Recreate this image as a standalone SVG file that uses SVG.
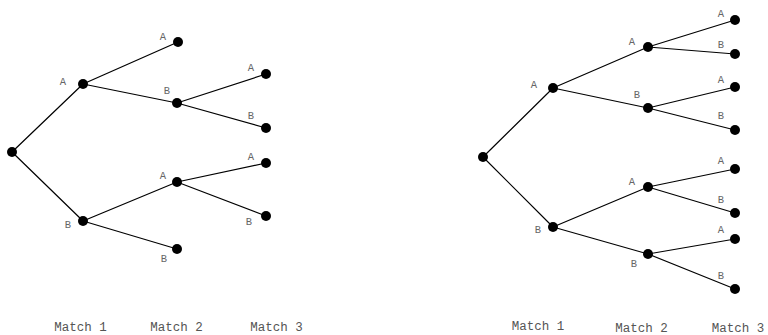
<svg xmlns="http://www.w3.org/2000/svg" width="768" height="335" viewBox="0 0 768 335">
<style>
.e{stroke:#000;stroke-width:1.2;fill:none}
.n{fill:#000}
.l{font-family:"Liberation Mono",monospace;font-size:10.5px;fill:#666;text-anchor:middle}
.m{font-family:"Liberation Mono",monospace;font-size:12.5px;fill:#555;text-anchor:middle}
</style>
<rect width="768" height="335" fill="#fff"/>
<g id="connectors">
<path class="e" d="M12,152 L83,84 M12,152 L83,221 M83,84 L178,42 M83,84 L177,103 M177,103 L266,74 M177,103 L266,128 M83,221 L177,182 M83,221 L177,249 M177,182 L266,163 M177,182 L266,216"/>
<path class="e" d="M483,157 L553,88 M483,157 L553,227 M553,88 L648,47 M553,88 L648,108 M553,227 L648,187 M553,227 L648,254 M648,47 L735,20 M648,47 L735,54 M648,108 L735,87 M648,108 L735,130 M648,187 L735,169 M648,187 L735,213 M648,254 L735,239 M648,254 L735,289"/>
</g>
<g id="L-root"><circle class="n" cx="12" cy="152" r="5"/></g>
<g id="L-A"><circle class="n" cx="83" cy="84" r="5"/><text class="l" x="63" y="85">A</text></g>
<g id="L-B"><circle class="n" cx="83" cy="221" r="5"/><text class="l" x="68" y="228">B</text></g>
<g id="L-AA"><circle class="n" cx="178" cy="42" r="5"/><text class="l" x="163" y="40">A</text></g>
<g id="L-AB"><circle class="n" cx="177" cy="103" r="5"/><text class="l" x="167" y="94">B</text></g>
<g id="L-ABA"><circle class="n" cx="266" cy="74" r="5"/><text class="l" x="251" y="71">A</text></g>
<g id="L-ABB"><circle class="n" cx="266" cy="128" r="5"/><text class="l" x="251" y="119">B</text></g>
<g id="L-BA"><circle class="n" cx="177" cy="182" r="5"/><text class="l" x="163" y="179">A</text></g>
<g id="L-BAA"><circle class="n" cx="266" cy="163" r="5"/><text class="l" x="251" y="160">A</text></g>
<g id="L-BAB"><circle class="n" cx="266" cy="216" r="5"/><text class="l" x="249" y="225">B</text></g>
<g id="L-BB"><circle class="n" cx="177" cy="249" r="5"/><text class="l" x="164" y="262">B</text></g>
<g id="R-root"><circle class="n" cx="483" cy="157" r="5"/></g>
<g id="R-A"><circle class="n" cx="553" cy="88" r="5"/><text class="l" x="534" y="88">A</text></g>
<g id="R-B"><circle class="n" cx="553" cy="227" r="5"/><text class="l" x="538" y="233">B</text></g>
<g id="R-AA"><circle class="n" cx="648" cy="47" r="5"/><text class="l" x="632" y="45">A</text></g>
<g id="R-AB"><circle class="n" cx="648" cy="108" r="5"/><text class="l" x="637" y="98">B</text></g>
<g id="R-BA"><circle class="n" cx="648" cy="187" r="5"/><text class="l" x="632" y="185">A</text></g>
<g id="R-BB"><circle class="n" cx="648" cy="254" r="5"/><text class="l" x="634" y="267">B</text></g>
<g id="R-AAA"><circle class="n" cx="735" cy="20" r="5"/><text class="l" x="721" y="17">A</text></g>
<g id="R-AAB"><circle class="n" cx="735" cy="54" r="5"/><text class="l" x="721" y="48">B</text></g>
<g id="R-ABA"><circle class="n" cx="735" cy="87" r="5"/><text class="l" x="721" y="83">A</text></g>
<g id="R-ABB"><circle class="n" cx="735" cy="130" r="5"/><text class="l" x="721" y="119">B</text></g>
<g id="R-BAA"><circle class="n" cx="735" cy="169" r="5"/><text class="l" x="721" y="164">A</text></g>
<g id="R-BAB"><circle class="n" cx="735" cy="213" r="5"/><text class="l" x="721" y="203">B</text></g>
<g id="R-BBA"><circle class="n" cx="735" cy="239" r="5"/><text class="l" x="721" y="233">A</text></g>
<g id="R-BBB"><circle class="n" cx="735" cy="289" r="5"/><text class="l" x="721" y="279">B</text></g>
<g id="axis-left">
<text class="m" x="80.5" y="331">Match 1</text>
<text class="m" x="176.5" y="331">Match 2</text>
<text class="m" x="276.5" y="331">Match 3</text>
</g>
<g id="axis-right">
<text class="m" x="538" y="330">Match 1</text>
<text class="m" x="641.5" y="331.5">Match 2</text>
<text class="m" x="738" y="331.5">Match 3</text>
</g>
</svg>
